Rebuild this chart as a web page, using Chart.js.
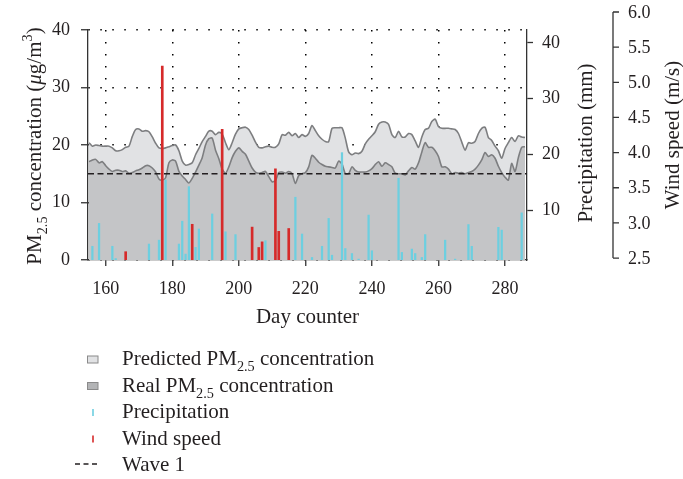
<!DOCTYPE html>
<html>
<head>
<meta charset="utf-8">
<title>PM2.5 prediction</title>
<script src="https://cdn.jsdelivr.net/npm/chart.js@4.4.1/dist/chart.umd.min.js"></script>
<style>
  body { margin: 0; background: #fff; }
  #wrap { width: 683px; height: 479px; position: relative; }
</style>
</head>
<body>
<div id="wrap"><canvas id="myChart"></canvas></div>
<script>
// day counter of the first value in the PM2.5 series (one value per day)
const firstDay = 155;

// predicted PM2.5 concentration (ug/m3), days 155..286
const predicted = [
  20.4, 19.8, 20.0, 19.9, 19.8, 19.8, 19.8, 19.5, 19.0, 19.0,
  19.2, 19.6, 19.8, 21.5, 22.7, 22.8, 22.4, 22.5, 22.3, 21.4,
  20.3, 19.5, 19.4, 19.5, 19.7, 19.9, 20.0, 19.0, 17.2, 16.5,
  16.6, 16.9, 18.3, 19.4, 20.6, 21.5, 22.4, 22.4, 21.8, 22.2,
  21.9, 20.4, 19.2, 20.4, 21.9, 22.8, 23.0, 23.1, 22.7, 21.7,
  20.5, 19.6, 19.5, 19.7, 19.8, 19.6, 19.6, 20.2, 21.8, 21.7,
  22.2, 21.6, 22.0, 21.3, 21.8, 21.5, 22.0, 23.4, 22.5, 21.6,
  21.0, 20.6, 20.6, 22.9, 23.0, 23.0, 23.0, 21.2, 18.8, 18.3,
  18.6, 18.5, 18.9, 20.2, 21.0, 21.6, 22.3, 23.6, 24.0, 24.0,
  23.6, 21.8, 21.3, 22.4, 21.4, 21.4, 22.0, 21.8, 20.7, 19.6,
  21.4, 22.7, 22.9, 24.1, 24.5, 23.2, 22.9, 22.9, 22.9, 22.8,
  22.7, 22.0, 20.5, 19.1, 20.4, 20.3, 20.6, 22.0, 22.9, 23.1,
  21.3, 20.8, 19.8, 19.0, 17.7, 19.4, 20.4, 21.3, 20.6, 21.6,
  21.4, 21.3
];

// real PM2.5 concentration (ug/m3), days 155..286
const real = [
  17.1, 17.4, 17.5, 16.9, 17.1, 16.4, 15.8, 15.4, 15.6, 15.6,
  15.4, 15.5, 15.1, 15.2, 15.5, 15.7, 16.0, 16.4, 16.4, 16.0,
  15.3, 14.1, 13.9, 14.3, 16.9, 17.4, 17.2, 15.4, 14.6, 14.0,
  13.4, 14.2, 15.3, 16.5, 17.8, 20.0, 21.1, 21.2, 19.1, 17.6,
  15.8, 15.1, 16.2, 17.8, 18.9, 19.5, 18.9, 18.4, 17.2, 16.0,
  15.3, 15.1, 15.2, 15.4, 14.5, 13.6, 13.8, 15.2, 15.3, 15.1,
  15.4, 15.0, 13.3, 14.7, 15.0, 15.2, 16.2, 18.2, 17.7, 17.0,
  16.6, 16.3, 16.2, 16.1, 16.0, 17.2, 16.7, 15.0, 15.0, 16.2,
  15.6, 15.3, 15.3, 15.3, 15.5, 15.9, 16.6, 17.1, 16.3, 16.9,
  16.6, 16.2, 15.1, 15.0, 15.0, 14.8, 15.5, 16.1, 15.8, 16.9,
  18.8, 20.4, 19.6, 19.6, 19.0, 18.0, 16.2, 16.2, 15.8, 15.0,
  15.2, 15.1, 15.2, 15.0, 15.2, 15.4, 15.8, 16.5, 17.4, 18.7,
  18.0, 18.3, 17.7, 16.3, 15.2, 14.4, 13.9, 16.8, 15.4, 17.8,
  19.6, 19.7
];

// precipitation (mm)
const precipDays = [156, 158, 162, 163, 173, 176, 178, 182, 183, 184, 185, 187, 188, 192, 196, 199, 208, 217, 219,
  222, 225, 227, 228, 231, 232, 234, 236, 239, 240, 248, 249, 252, 253, 255, 256, 262, 265, 269, 270, 278, 279, 285];
const precipValues = [3.5, 7.6, 3.5, 1.3, 3.9, 4.6, 15.4, 3.9, 8.0, 2.1, 14.2, 3.3, 6.6, 9.3, 6.1, 5.6, 4.5, 12.3, 5.7,
  1.5, 3.5, 8.5, 1.9, 20.3, 3.1, 2.2, 1.2, 9.1, 2.7, 15.7, 2.4, 3.0, 2.2, 1.5, 5.6, 4.6, 1.2, 7.4, 3.5, 6.9, 6.4, 9.5];

// wind speed (m/s)
const windDays = [166, 177, 186, 195, 204, 206, 207, 211, 212, 215];
const windValues = [2.59, 5.23, 2.98, 4.33, 2.94, 2.65, 2.73, 3.77, 2.88, 2.92];

// Wave 1 threshold
const waveLevel = 15;
const waveDays = [154.68, 286.6];

// axes
const xRange = [154.68, 286.6];
const pmRange = [0, 40];
const precipRange = [1.04, 42.3];
const windRange = [2.472, 5.744];
const xTicks = [160, 180, 200, 220, 240, 260, 280];
const pmTicks = [0, 10, 20, 30, 40];
const precipTicks = [10, 20, 30, 40];
const windTicks = [2.5, 3.0, 3.5, 4.0, 4.5, 5.0, 5.5, 6.0];

const FONT = "'Liberation Serif', 'DejaVu Serif', serif";
const ink = '#231f20';
const lightFill = '#e1e2e4';
const darkFill = '#c4c5c7';
const lineGrey = '#7d7e80';
const cyan = '#6dcfe0';
const red = '#d62a2a';

function fontFor(style, size) {
  if (style === 'sub' || style === 'sup') return (size * 0.68) + 'px ' + FONT;
  if (style === 'it') return 'italic ' + size + 'px ' + FONT;
  return size + 'px ' + FONT;
}

// text with sub/superscripts, parts = [[text, style], ...]
function drawRich(ctx, parts, x, y, size, align) {
  let total = 0;
  parts.forEach(p => { ctx.font = fontFor(p[1], size); total += ctx.measureText(p[0]).width; });
  let cx = align === 'center' ? x - total / 2 : x;
  ctx.textAlign = 'left';
  ctx.textBaseline = 'alphabetic';
  parts.forEach(p => {
    ctx.font = fontFor(p[1], size);
    let dy = p[1] === 'sub' ? size * 0.3 : (p[1] === 'sup' ? -size * 0.42 : 0);
    ctx.fillText(p[0], cx, y + dy);
    cx += ctx.measureText(p[0]).width;
  });
}

const pmTitle = [['PM', ''], ['2.5', 'sub'], [' concentration (', ''], ['\u03bc', 'it'], ['g/m', ''], ['3', 'sup'], [')', '']];

const legendItems = [
  { kind: 'box', fill: lightFill, text: [['Predicted PM', ''], ['2.5', 'sub'], [' concentration', '']] },
  { kind: 'box', fill: '#b3b4b6', text: [['Real PM', ''], ['2.5', 'sub'], [' concentration', '']] },
  { kind: 'tick', color: cyan, text: [['Precipitation', '']] },
  { kind: 'tick', color: red, text: [['Wind speed', '']] },
  { kind: 'dash', color: ink, text: [['Wave 1', '']] }
];

const decorations = {
  id: 'decorations',
  afterDraw(chart) {
    const ctx = chart.ctx;
    const area = chart.chartArea;
    const mid = (area.top + area.bottom) / 2;
    ctx.save();
    ctx.fillStyle = ink;

    // left axis title
    ctx.save();
    ctx.translate(41, mid + 1);
    ctx.rotate(-Math.PI / 2);
    drawRich(ctx, pmTitle, 0, 0, 21, 'center');
    ctx.restore();

    // precipitation title
    ctx.save();
    ctx.translate(592, mid - 2);
    ctx.rotate(-Math.PI / 2);
    drawRich(ctx, [['Precipitation (mm)', '']], 0, 0, 21, 'center');
    ctx.restore();

    // wind speed axis, drawn from the hidden y2 scale
    const w = chart.scales.y2;
    const wx = area.right + 86;
    const wTop = w.getPixelForValue(windTicks[windTicks.length - 1]);
    const wBot = w.getPixelForValue(windTicks[0]);
    ctx.strokeStyle = '#333';
    ctx.lineWidth = 1.3;
    ctx.beginPath();
    ctx.moveTo(wx, wTop);
    ctx.lineTo(wx, wBot);
    windTicks.forEach(v => {
      const py = w.getPixelForValue(v);
      ctx.moveTo(wx, py);
      ctx.lineTo(wx + 6, py);
    });
    ctx.stroke();
    ctx.font = '18px ' + FONT;
    ctx.textAlign = 'left';
    ctx.textBaseline = 'middle';
    windTicks.forEach(v => {
      ctx.fillText(v.toFixed(1), wx + 15, w.getPixelForValue(v) + 1);
    });

    ctx.save();
    ctx.translate(679, (wTop + wBot) / 2);
    ctx.rotate(-Math.PI / 2);
    drawRich(ctx, [['Wind speed (m/s)', '']], 0, 0, 21, 'center');
    ctx.restore();

    // x axis title
    drawRich(ctx, [['Day counter', '']], (area.left + area.right) / 2, 323, 21, 'center');

    // legend
    legendItems.forEach((item, i) => {
      const base = 365 + i * 26.5;
      if (item.kind === 'box') {
        ctx.fillStyle = item.fill;
        ctx.strokeStyle = '#8a8a8a';
        ctx.lineWidth = 1;
        ctx.fillRect(87.5, base - 9, 10.5, 7);
        ctx.strokeRect(87.5, base - 9, 10.5, 7);
      } else if (item.kind === 'tick') {
        ctx.strokeStyle = item.color;
        ctx.lineWidth = 1.6;
        ctx.beginPath();
        ctx.moveTo(93, base - 9);
        ctx.lineTo(93, base - 2);
        ctx.stroke();
      } else {
        ctx.strokeStyle = item.color;
        ctx.lineWidth = 1.3;
        ctx.setLineDash([5, 3.5]);
        ctx.beginPath();
        ctx.moveTo(75, base - 7);
        ctx.lineTo(100, base - 7);
        ctx.stroke();
        ctx.setLineDash([]);
      }
      ctx.fillStyle = ink;
      drawRich(ctx, item.text, 122, base, 21, 'left');
    });
    ctx.restore();
  }
};

function fixedTicks(list) {
  return function (scale) { scale.ticks = list.map(v => ({ value: v })); };
}

const dottedGrid = { offset: false, color: '#000', lineWidth: 1.5, tickLength: 7, tickColor: '#333', tickWidth: 1.3 };

const ctx = document.getElementById('myChart').getContext('2d');
const myChart = new Chart(ctx, {
  type: 'line',
  data: {
    datasets: [
      {
        label: 'Predicted PM2.5 concentration',
        data: predicted.map((v, i) => ({ x: firstDay + i, y: v })),
        yAxisID: 'y',
        borderColor: lineGrey,
        borderWidth: 1.6,
        backgroundColor: lightFill,
        fill: 'origin',
        pointRadius: 0,
        tension: 0.25,
        order: 6
      },
      {
        label: 'Real PM2.5 concentration',
        data: real.map((v, i) => ({ x: firstDay + i, y: v })),
        yAxisID: 'y',
        borderColor: lineGrey,
        borderWidth: 1.6,
        backgroundColor: darkFill,
        fill: 'origin',
        pointRadius: 0,
        tension: 0.25,
        order: 5
      },
      {
        label: 'Wave 1',
        data: waveDays.map(d => ({ x: d, y: waveLevel })),
        yAxisID: 'y',
        borderColor: ink,
        borderWidth: 1.4,
        borderDash: [6, 3.5],
        pointRadius: 0,
        fill: false,
        order: 3
      },
      {
        type: 'bar',
        label: 'Precipitation',
        data: precipDays.map((d, i) => ({ x: d, y: precipValues[i] })),
        yAxisID: 'y1',
        backgroundColor: cyan,
        barThickness: 1.6,
        grouped: false,
        order: 2
      },
      {
        type: 'bar',
        label: 'Wind speed',
        data: windDays.map((d, i) => ({ x: d, y: windValues[i] })),
        yAxisID: 'y2',
        backgroundColor: red,
        barThickness: 2,
        grouped: false,
        order: 1
      }
    ]
  },
  options: {
    responsive: true,
    maintainAspectRatio: false,
    devicePixelRatio: 1,
    animation: false,
    layout: { padding: { top: 30, left: 0, right: 0, bottom: 0 } },
    plugins: { legend: { display: false }, tooltip: { enabled: false } },
    scales: {
      x: {
        type: 'linear',
        min: xRange[0],
        max: xRange[1],
        offset: false,
        afterBuildTicks: fixedTicks(xTicks),
        afterFit: s => { s.height = 219; },
        ticks: { font: { family: FONT, size: 18 }, color: ink, padding: 12, maxRotation: 0 },
        grid: Object.assign({}, dottedGrid, { tickLength: 6 }),
        border: { display: true, color: '#333', width: 1.3, dash: [1.5, 10.5] }
      },
      y: {
        position: 'left',
        min: pmRange[0],
        max: pmRange[1],
        afterBuildTicks: fixedTicks(pmTicks),
        afterFit: s => { s.width = 88; },
        ticks: { font: { family: FONT, size: 18 }, color: ink, padding: 11 },
        grid: dottedGrid,
        border: { display: true, color: '#333', width: 1.3, dash: [1.5, 10.5] }
      },
      y1: {
        position: 'right',
        min: precipRange[0],
        max: precipRange[1],
        afterBuildTicks: fixedTicks(precipTicks),
        afterFit: s => { s.width = 156; },
        ticks: { font: { family: FONT, size: 18 }, color: ink, padding: 9 },
        grid: { drawOnChartArea: false, tickLength: 6, tickColor: '#333', tickWidth: 1.3 },
        border: { display: true, color: '#333', width: 1.3 }
      },
      y2: {
        display: false,
        min: windRange[0],
        max: windRange[1]
      }
    }
  },
  plugins: [decorations]
});
</script>
</body>
</html>
